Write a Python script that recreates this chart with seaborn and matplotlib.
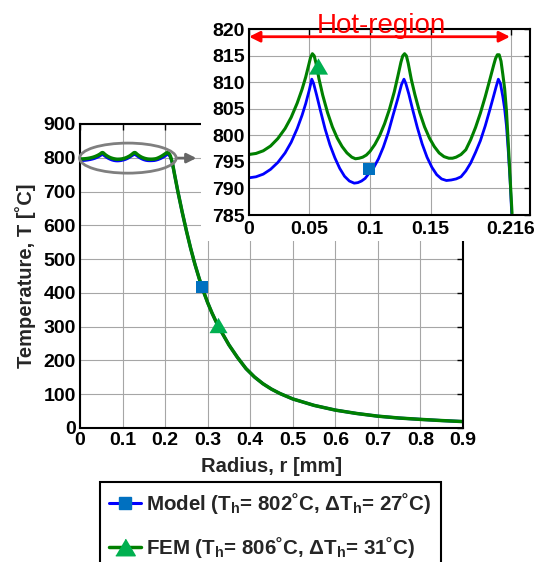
import numpy as np
import pandas as pd
import matplotlib
matplotlib.use("Agg")
import matplotlib.pyplot as plt
import seaborn as sns
from matplotlib.patches import Ellipse, Rectangle
from matplotlib.lines import Line2D

# ---------------- data ----------------
# hot region (0 .. 0.216 mm)
r_hot_model = [0, 0.006, 0.012, 0.018, 0.024, 0.030, 0.035, 0.040, 0.044, 0.047, 0.050, 0.052,
               0.0535, 0.056, 0.059, 0.063, 0.067, 0.071, 0.075, 0.079, 0.083, 0.087, 0.090,
               0.093, 0.096, 0.099, 0.103, 0.107, 0.111, 0.115, 0.119, 0.123, 0.126, 0.128,
               0.1295, 0.132, 0.135, 0.139, 0.143, 0.147, 0.151, 0.155, 0.159, 0.163, 0.167,
               0.171, 0.175, 0.179, 0.183, 0.187, 0.191, 0.195, 0.199, 0.202, 0.204, 0.2058,
               0.2075, 0.2095, 0.211, 0.2125, 0.214, 0.2155, 0.2168]
T_hot_model = [792.0, 792.2, 792.7, 793.6, 794.9, 796.7, 798.7, 801.3, 803.8, 806.0, 808.6, 810.6,
               809.8, 807.6, 804.8, 801.2, 798.2, 795.8, 793.8, 792.3, 791.4, 791.0, 791.1,
               791.4, 791.9, 792.8, 793.9, 795.6, 797.8, 800.5, 803.8, 807.0, 809.6, 810.6,
               809.8, 807.8, 805.0, 801.5, 798.4, 795.9, 794.0, 792.6, 791.8, 791.5, 791.6,
               791.8, 792.2, 793.3, 794.8, 796.8, 799.0, 801.8, 805.0, 807.5, 809.2, 810.6,
               809.8, 807.3, 805.0, 801.8, 797.0, 791.5, 785.3]

r_hot_fem = [0, 0.006, 0.012, 0.018, 0.024, 0.030, 0.035, 0.040, 0.044, 0.047, 0.0495, 0.051,
             0.0525, 0.054, 0.0555, 0.058, 0.061, 0.065, 0.069, 0.073, 0.077, 0.081, 0.085,
             0.088, 0.091, 0.094, 0.097, 0.100, 0.104, 0.108, 0.112, 0.116, 0.120, 0.123,
             0.1255, 0.127, 0.1285, 0.130, 0.1315, 0.134, 0.137, 0.141, 0.145, 0.149, 0.153,
             0.157, 0.161, 0.165, 0.168, 0.171, 0.175, 0.179, 0.183, 0.187, 0.191, 0.195,
             0.199, 0.202, 0.2035, 0.205, 0.2065, 0.208, 0.2095, 0.211, 0.2125, 0.214,
             0.2155, 0.2171]
T_hot_fem = [796.4, 796.6, 797.1, 798.0, 799.4, 801.3, 803.4, 806.1, 808.7, 811.0, 813.3, 814.7,
             815.4, 815.0, 813.6, 810.6, 807.6, 804.3, 801.6, 799.5, 797.9, 796.7, 795.9,
             795.6, 795.7, 795.9, 796.3, 797.0, 798.3, 800.0, 802.2, 804.9, 808.2, 811.2,
             813.8, 815.0, 815.4, 815.0, 813.6, 810.6, 807.7, 804.3, 801.6, 799.5, 797.9,
             796.7, 796.0, 795.7, 795.7, 795.9, 796.4, 797.3, 799.2, 801.5, 804.2, 807.3,
             810.7, 813.3, 814.5, 815.2, 815.2, 814.0, 811.5, 808.8, 804.6, 798.5,
             792.0, 785.3]

# outside the hot region (both curves overlap)
r_out = [0.222, 0.230, 0.240, 0.250, 0.260, 0.270, 0.280, 0.290, 0.300, 0.310, 0.320,
         0.330, 0.340, 0.350, 0.370, 0.390, 0.410, 0.430, 0.450, 0.470, 0.500, 0.550,
         0.600, 0.650, 0.700, 0.750, 0.800, 0.850, 0.900]
T_out = [752, 700, 640, 584, 532, 485, 443, 405, 371, 341, 314,
         290, 268, 246, 209, 176, 151, 131, 115, 102, 86, 67,
         53, 43, 35, 29.5, 25.5, 22, 19]

# marker positions
model_mark_main = ([0.287], [418])
fem_mark_main = ([0.324], [306])
model_mark_inset = ([0.099], [793.7])
fem_mark_inset = ([0.0568], [813.0])

main_xticks = [0, 0.1, 0.2, 0.3, 0.4, 0.5, 0.6, 0.7, 0.8, 0.9]
main_xlabels = ["0", "0.1", "0.2", "0.3", "0.4", "0.5", "0.6", "0.7", "0.8", "0.9"]
main_yticks = [0, 100, 200, 300, 400, 500, 600, 700, 800, 900]
inset_xticks = [0, 0.05, 0.1, 0.15, 0.216]
inset_xlabels = ["0", "0.05", "0.1", "0.15", "0.216"]
inset_yticks = [785, 790, 795, 800, 805, 810, 815, 820]

labels = ["Model (T$_\\mathrm{h}$= 802\u02daC, \u0394T$_\\mathrm{h}$= 27\u02daC)",
          "FEM (T$_\\mathrm{h}$= 806\u02daC, \u0394T$_\\mathrm{h}$= 31\u02daC)"]

# ---------------- style ----------------
sns.set_theme(style="white")
plt.rcParams["font.family"] = ["Liberation Sans", "DejaVu Sans"]
plt.rcParams["font.weight"] = "bold"
plt.rcParams["mathtext.fontset"] = "custom"
plt.rcParams["mathtext.rm"] = "Liberation Sans:bold"
plt.rcParams["mathtext.it"] = "Liberation Sans:bold"
plt.rcParams["mathtext.bf"] = "Liberation Sans:bold"

BLUE = "#0000FF"
GREEN = "#008000"
SQ = "#0070C0"
TRI = "#00B050"
tri = [(-1, -0.85), (1, -0.85), (0, 0.85)]

W, H = 537, 562
fig = plt.figure(figsize=(W / 100, H / 100), dpi=100)
fig.patch.set_facecolor("white")

def fx(px):
    return px / W

def fy(py):
    return 1 - py / H

df_model = pd.DataFrame({"r": r_hot_model + r_out, "T": T_hot_model + T_out})
df_fem = pd.DataFrame({"r": r_hot_fem + r_out, "T": T_hot_fem + T_out})

# ---------------- main axes ----------------
ax = fig.add_axes([fx(80), fy(428), fx(463) - fx(80), fy(124) - fy(428)])
ax.set_zorder(0)
sns.lineplot(data=df_model, x="r", y="T", ax=ax, color=BLUE, lw=2.2, sort=False, estimator=None)
sns.lineplot(data=df_fem, x="r", y="T", ax=ax, color=GREEN, lw=2.5, sort=False, estimator=None)
sns.scatterplot(x=model_mark_main[0], y=model_mark_main[1], ax=ax, marker="s", s=85,
                color=SQ, linewidth=0, zorder=5)
sns.scatterplot(x=fem_mark_main[0], y=fem_mark_main[1], ax=ax, marker=tri, s=170,
                color=TRI, linewidth=0, zorder=5)
ax.set_xlim(0, 0.9)
ax.set_ylim(0, 900)
ax.set_xticks(main_xticks)
ax.set_xticklabels(main_xlabels)
ax.set_yticks(main_yticks)
ax.grid(True, color="#a6a6a6", lw=0.8)
ax.tick_params(direction="in", length=4, width=1, labelsize=14, pad=3,
               top=True, right=True, colors="black")
for s in ax.spines.values():
    s.set_color("black")
    s.set_linewidth(1.5)
ax.set_xlabel("Radius, r [mm]", fontsize=14.5, fontweight="bold")
ax.set_ylabel("Temperature, T [\u02daC]", fontsize=14.5, fontweight="bold")
ax.xaxis.label.set_va("center")
ax.xaxis.set_label_coords(0.5, -(466 - 428) / 304)
ax.yaxis.label.set_va("center")
ax.yaxis.set_label_coords(-(80 - 26) / 383, 0.5)

ax.add_patch(Ellipse((0.1125, 799), 0.227, 89, fill=False, edgecolor="#7f7f7f",
                     lw=2, zorder=4, clip_on=False))
ax.annotate("", xy=(0.2735, 799), xytext=(0.2262, 799),
            arrowprops=dict(arrowstyle="-|>", color="#666666", lw=2,
                            mutation_scale=14, shrinkA=0, shrinkB=0))

# white area behind inset
fig.add_artist(Rectangle((fx(201), fy(241)), 1, 1, transform=fig.transFigure,
                         facecolor="white", edgecolor="none", zorder=1))

# ---------------- inset ----------------
axi = fig.add_axes([fx(248.7), fy(215), fx(530) - fx(248.7), fy(29.3) - fy(215)])
axi.set_zorder(3)
sns.lineplot(x=r_hot_model, y=T_hot_model, ax=axi, color=BLUE, lw=2.0, sort=False, estimator=None)
sns.lineplot(x=r_hot_fem, y=T_hot_fem, ax=axi, color=GREEN, lw=2.2, sort=False, estimator=None)
sns.scatterplot(x=model_mark_inset[0], y=model_mark_inset[1], ax=axi, marker="s", s=80,
                color=SQ, linewidth=0, zorder=5)
sns.scatterplot(x=fem_mark_inset[0], y=fem_mark_inset[1], ax=axi, marker=tri, s=190,
                color=TRI, linewidth=0, zorder=5)
axi.set_xlim(0, 0.2319)
axi.set_ylim(785, 820)
axi.set_xticks(inset_xticks)
axi.set_xticklabels(inset_xlabels)
axi.set_yticks(inset_yticks)
axi.grid(True, color="#a6a6a6", lw=0.8)
axi.tick_params(direction="in", length=4, width=1, labelsize=14, pad=3,
                top=True, right=True, colors="black")
axi.tick_params(axis="x", pad=4)
for s in axi.spines.values():
    s.set_color("black")
    s.set_linewidth(1.5)
axi.set_xlabel("")
axi.set_ylabel("")

axi.annotate("", xy=(0.2154, 818.6), xytext=(0.0003, 818.6),
             arrowprops=dict(arrowstyle="<|-|>", color="red", lw=2,
                             mutation_scale=16, shrinkA=0, shrinkB=0),
             annotation_clip=False)
axi.text(0.1097, 819.3, "Hot-region", color="red", fontsize=20, fontweight="normal",
         ha="center", va="baseline", clip_on=False, zorder=10)

# ---------------- legend ----------------
handles = [
    Line2D([0], [0], color=BLUE, lw=2.2, marker="s", markersize=9,
           markerfacecolor=SQ, markeredgecolor=SQ),
    Line2D([0], [0], color=GREEN, lw=2.5, marker=tri, markersize=14,
           markerfacecolor=TRI, markeredgecolor=TRI),
]
leg = fig.legend(handles, labels, loc="upper left",
                 bbox_to_anchor=(fx(100), fy(481.7)), bbox_transform=fig.transFigure,
                 frameon=True, fancybox=False, framealpha=1, edgecolor="black",
                 prop={"size": 14.8, "weight": "bold"}, borderpad=0.45, handlelength=1.55,
                 handletextpad=0.25, labelspacing=0.95, borderaxespad=0)
leg.get_frame().set_linewidth(1.5)
leg.set_zorder(5)

fig.savefig("out.png", dpi=100)
